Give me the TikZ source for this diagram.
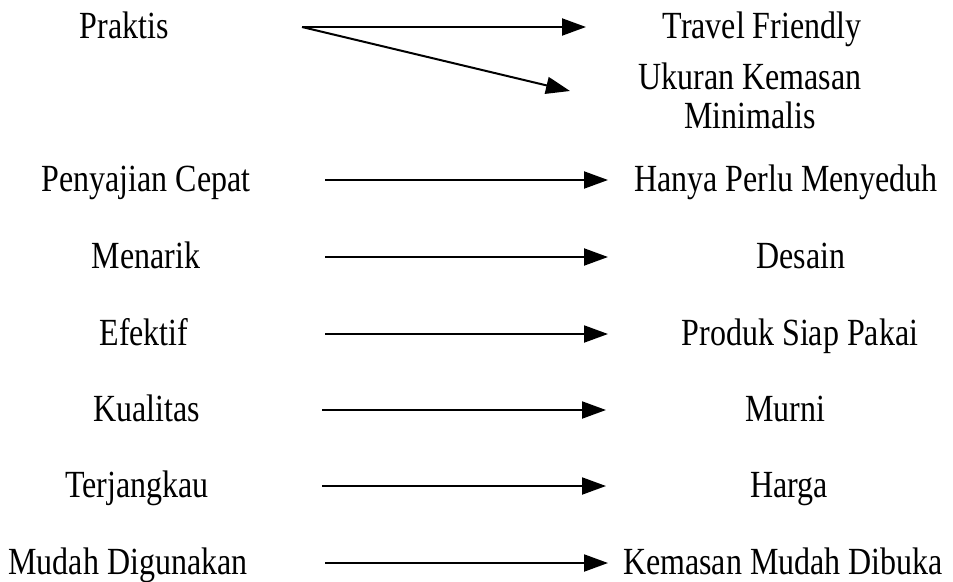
\documentclass[tikz,border=0pt]{standalone}
\usepackage{fontspec}
\setmainfont[FakeStretch=0.8333]{Liberation Serif}
\usetikzlibrary{arrows.meta}
\begin{document}
\begin{tikzpicture}[x=1pt,y=-1pt,
  lbl/.style={inner sep=0pt,anchor=base,font=\fontsize{38.4}{39}\selectfont,align=center},
  arr/.style={line width=2pt,-{Triangle[length=24pt,width=17pt]}}]
\useasboundingbox (0,0) rectangle (953,581);
% left column
\node[lbl] (praktis) at (124,38) {Praktis};
\node[lbl] (penyajian) at (146,191) {Penyajian Cepat};
\node[lbl] (menarik) at (146,268) {Menarik};
\node[lbl] (efektif) at (144,345) {Efektif};
\node[lbl] (kualitas) at (147,421) {Kualitas};
\node[lbl] (terjangkau) at (137,497) {Terjangkau};
\node[lbl] (mudah) at (128,574) {Mudah Digunakan};
% right column
\node[lbl] (travel) at (762,38) {Travel Friendly};
\node[lbl,anchor=north] (ukuran) at (750,63) {Ukuran Kemasan\\Minimalis};
\node[lbl] (hanya) at (786,191) {Hanya Perlu Menyeduh};
\node[lbl] (desain) at (801,268) {Desain};
\node[lbl] (produk) at (800,345) {Produk Siap Pakai};
\node[lbl] (murni) at (785,421) {Murni};
\node[lbl] (harga) at (789,497) {Harga};
\node[lbl] (kemasan) at (783,574) {Kemasan Mudah Dibuka};
% connector end points
\coordinate (s1) at (302,27);  \coordinate (t1) at (586,27);
\coordinate (t2) at (570,91);
\coordinate (s3) at (325,180); \coordinate (t3) at (608,180);
\coordinate (s4) at (325,257); \coordinate (t4) at (608,257);
\coordinate (s5) at (325,334); \coordinate (t5) at (608,334);
\coordinate (s6) at (322,410); \coordinate (t6) at (606,410);
\coordinate (s7) at (322,486); \coordinate (t7) at (606,486);
\coordinate (s8) at (325,563); \coordinate (t8) at (608,563);
\draw[arr] (s1) -- (t1);
\draw[arr] (s1) -- (t2);
\draw[arr] (s3) -- (t3);
\draw[arr] (s4) -- (t4);
\draw[arr] (s5) -- (t5);
\draw[arr] (s6) -- (t6);
\draw[arr] (s7) -- (t7);
\draw[arr] (s8) -- (t8);
\end{tikzpicture}
\end{document}
